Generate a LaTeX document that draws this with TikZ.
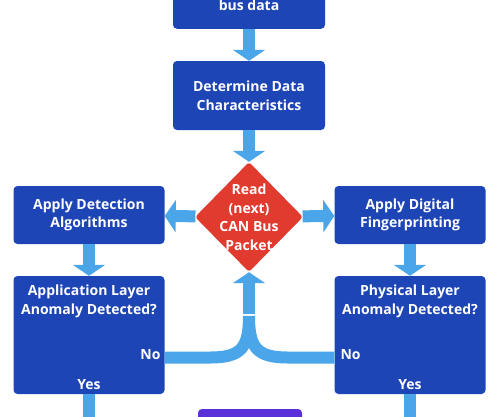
\documentclass[tikz,border=0pt]{standalone}
\usepackage{fontspec}
\setmainfont{Open Sans}
\usepackage{xcolor}
\usetikzlibrary{shapes.geometric,arrows.meta,positioning}
\definecolor{boxblue}{HTML}{1E45B5}
\definecolor{arrowblue}{HTML}{4AA6E8}
\definecolor{readred}{HTML}{E13A2F}
\definecolor{endpurple}{HTML}{5A30D8}

\begin{document}
\begin{tikzpicture}[x=1pt,y=-1pt]
    \tikzstyle{box}=[rectangle,rounded corners=4pt,fill=boxblue,text=white,font=\bfseries\fontsize{14}{18.5}\selectfont,align=center,minimum width=151pt,inner sep=0pt]
    \tikzstyle{lbl}=[text=white,font=\bfseries\fontsize{14}{18.5}\selectfont,align=center,inner sep=0pt]
    \tikzstyle{fat}=[draw=arrowblue,line width=12pt,-{Triangle[width=32pt,length=11pt]}]
    \tikzstyle{pipe}=[draw=arrowblue,line width=12pt]

    \useasboundingbox (0,0) rectangle (500,416);
    \clip (0,0) rectangle (500,416);

    % Boxes
    \node [box, minimum width=152pt, minimum height=70pt, anchor=south] (collect) at (249,29) {};
    \node [box, minimum width=152pt, minimum height=69pt] (determine) at (249,95.5) {Determine Data\\Characteristics};
    \node [diamond, fill=readred, rounded corners=3pt, minimum width=108pt, minimum height=110pt, inner sep=0pt,
           label={[lbl]center:Read\\(next)\\CAN Bus\\Packet}] (read) at (249,217) {};
    \node [box, minimum height=58pt] (detect) at (89,215) {Apply Detection\\Algorithms};
    \node [box, minimum height=58pt] (finger) at (410,215) {Apply Digital\\Fingerprinting};
    \node [box, minimum height=118pt] (app) at (89,335) {};
    \node [box, minimum height=118pt] (phys) at (410,335) {};
    \node [box, fill=endpurple, minimum width=104pt, minimum height=44pt] (final) at (250,431) {};

    % Texts inside boxes
    \node [lbl, above=18pt of collect.south] (collecttext) {bus data};
    \node [lbl, below=9pt of app.north] (apptitle) {Application Layer\\Anomaly Detected?};
    \node [lbl, below=9pt of phys.north] (phystitle) {Physical Layer\\Anomaly Detected?};
    \node [lbl, anchor=east] (appno) at ([xshift=-4pt,yshift=-20pt]app.east) {No};
    \node [lbl, anchor=west] (physno) at ([xshift=6pt,yshift=-20pt]phys.west) {No};
    \node [lbl, above=4pt of app.south] (appyes) {Yes};
    \node [lbl, above=4pt of phys.south] (physyes) {Yes};

    % Arrows
    \draw [fat] (collect) -- (determine);
    \draw [fat] (determine) -- (read);
    \draw [fat] (read) -- (detect);
    \draw [fat] (read) -- (finger);
    \draw [fat] (detect) -- (app);
    \draw [fat] (finger) -- (phys);

    % No branches back to the diamond
    \coordinate (merge) at (249,316);
    \draw [pipe] ([yshift=-22.5pt]app.east) -- (210,357.5) .. controls (241,357.5) and (249,348) .. (merge);
    \draw [pipe] ([yshift=-22.5pt]phys.west) -- (288,357.5) .. controls (257,357.5) and (249,348) .. (merge);
    \draw [fat] ([yshift=2pt]merge) -- (read.south);

    % Yes branches
    \coordinate (appdown) at (89,420);
    \coordinate (physdown) at (410,420);
    \draw [pipe] (app.south) -- (appdown);
    \draw [pipe] (phys.south) -- (physdown);
\end{tikzpicture}
\end{document}
